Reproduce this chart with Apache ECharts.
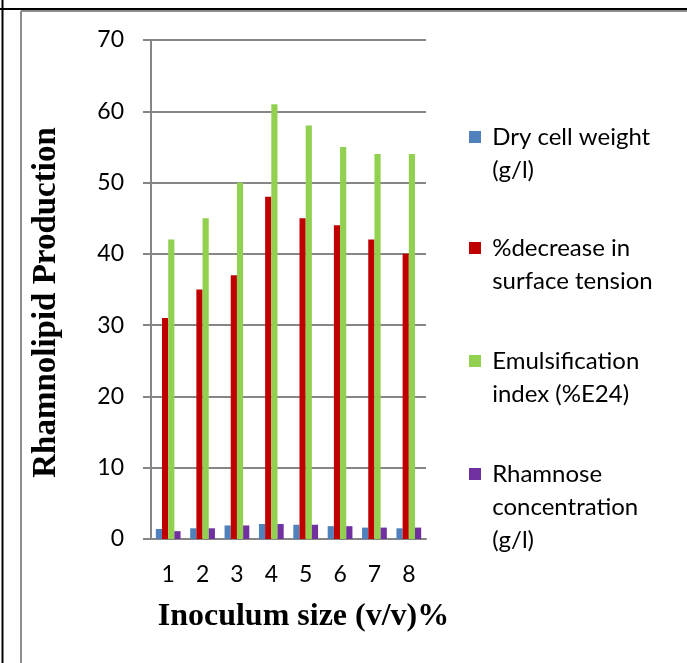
<!DOCTYPE html>
<html>
<head>
<meta charset="utf-8">
<script src="https://cdn.jsdelivr.net/npm/echarts@6/dist/echarts.min.js"></script>
<style>
	html, body { margin: 0; padding: 0; background: #fff; }
	#chart { width: 687px; height: 663px; }
</style>
</head>
<body>
<div id="chart"></div>
<script>
// Data
var categories = ['1', '2', '3', '4', '5', '6', '7', '8'];
var dryCellWeight = [1.4, 1.5, 1.9, 2.1, 2.0, 1.8, 1.6, 1.5];
var surfaceTension = [31, 35, 37, 48, 45, 44, 42, 40];
var emulsification = [42, 45, 50, 61, 58, 55, 54, 54];
var rhamnose = [1.1, 1.5, 1.9, 2.1, 2.0, 1.8, 1.6, 1.6];

var seriesNames = ['Dry cell weight (g/l)', '%decrease in surface tension', 'Emulsification index (%E24)', 'Rhamnose concentration (g/l)'];
var legendLines = [
	['Dry cell weight', '(g/l)'],
	['%decrease in', 'surface tension'],
	['Emulsification', 'index (%E24)'],
	['Rhamnose', 'concentration', '(g/l)']
];
var colors = ['#4F81BD', '#C00000', '#92D050', '#7030A0'];
var yTicks = [0, 70, 10];

var chart = echarts.init(document.getElementById('chart'));

// one legend per item; blank lines on top keep the square beside the first line
var lineH = 33;
var iconCenters = [137, 248, 361, 474];
var legends = [];
for (var i = 0; i < legendLines.length; i++) {
	var n = legendLines[i].length;
	legends.push({
		left: 469,
		top: iconCenters[i] - (2 * n - 1) * lineH / 2,
		padding: 0,
		itemWidth: 12,
		itemHeight: 12,
		icon: 'rect',
		selectedMode: false,
		data: [seriesNames[i]],
		formatter: (function (lines) {
			var out = [];
			for (var k = 1; k < lines.length; k++) out.push(' ');
			for (var j = 0; j < lines.length; j++) out.push(' ' + lines[j]);
			return function () { return out.join('\n'); };
		})(legendLines[i]),
		textStyle: {
			fontFamily: 'Lato',
			fontSize: 24,
			color: '#000',
			lineHeight: lineH
		}
	});
}

var values = [dryCellWeight, surfaceTension, emulsification, rhamnose];
var series = [];
for (var s = 0; s < values.length; s++) {
	series.push({
		name: seriesNames[s],
		type: 'bar',
		data: values[s],
		barGap: 0,
		barCategoryGap: '28%',
		itemStyle: { color: colors[s] }
	});
}

var options = {
	animation: false,
	grid: { left: 151, right: 261, top: 40, bottom: 124 },
	legend: legends,
	xAxis: {
		type: 'category',
		data: categories,
		name: 'Inoculum size (v/v)%',
		nameLocation: 'middle',
		nameGap: 62,
		nameTextStyle: {
			fontFamily: 'Liberation Serif',
			fontWeight: 'bold',
			fontSize: 32,
			color: '#000',
			padding: [0, 0, 0, 30]
		},
		axisLine: { lineStyle: { color: '#868686', width: 2 } },
		axisTick: { length: 8, lineStyle: { color: '#868686', width: 2 } },
		axisLabel: { fontFamily: 'Lato', fontSize: 23, color: '#000', margin: 24 }
	},
	yAxis: {
		type: 'value',
		min: yTicks[0],
		max: yTicks[1],
		interval: yTicks[2],
		name: 'Rhamnolipid Production',
		nameLocation: 'middle',
		nameGap: 88,
		nameTextStyle: {
			fontFamily: 'Liberation Serif',
			fontWeight: 'bold',
			fontSize: 33,
			color: '#000',
			padding: [0, 26, 0, 0]
		},
		axisLine: { show: true, lineStyle: { color: '#868686', width: 2 } },
		axisTick: { show: true, length: 8, lineStyle: { color: '#868686', width: 2 } },
		axisLabel: { fontFamily: 'Lato', fontSize: 23, color: '#000', margin: 27 },
		splitLine: { lineStyle: { color: '#868686', width: 2 } }
	},
	series: series,
	// page borders around the chart
	graphic: [
		{ type: 'line', shape: { x1: 0, y1: 9, x2: 687, y2: 9 }, style: { stroke: '#000', lineWidth: 2 } },
		{ type: 'line', shape: { x1: 2.5, y1: 0, x2: 2.5, y2: 663 }, style: { stroke: '#000', lineWidth: 2 } },
		{ type: 'line', shape: { x1: 21, y1: 11, x2: 687, y2: 11 }, style: { stroke: '#8c8c8c', lineWidth: 2 } },
		{ type: 'line', shape: { x1: 21, y1: 11, x2: 21, y2: 663 }, style: { stroke: '#8c8c8c', lineWidth: 2 } }
	]
};

chart.setOption(options);
</script>
</body>
</html>
